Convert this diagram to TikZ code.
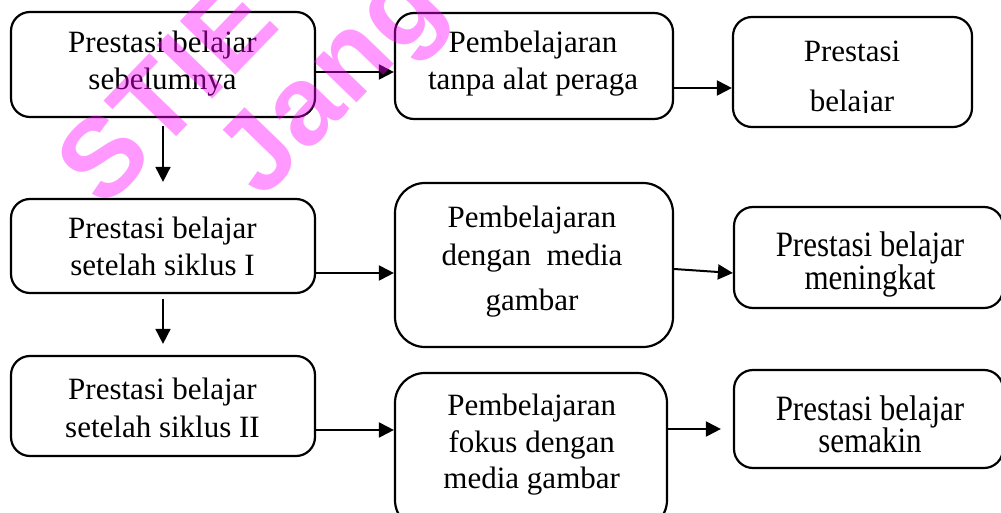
\documentclass[tikz,border=0pt]{standalone}
\usepackage{fontspec}
\setmainfont{Liberation Serif}
\newfontfamily\wmfont{Liberation Sans}[LetterSpace=2]
\usetikzlibrary{arrows.meta}
\definecolor{wmpink}{RGB}{255,0,255}
\begin{document}
\begin{tikzpicture}[x=1pt,y=1pt,
  box/.style={draw, line width=2.2pt, rounded corners=19pt, inner sep=0pt},
  bigbox/.style={box, rounded corners=30pt},
  txt/.style={anchor=base, inner sep=0pt, font=\fontsize{31}{37}\selectfont},
  arr/.style={line width=2pt, -{Triangle[length=15pt,width=15pt]}},
  wm/.style={text=wmpink, opacity=0.4, font=\wmfont\bfseries\fontsize{112}{112}\selectfont, rotate=46, anchor=center, inner sep=0pt}
]
\useasboundingbox (0,0) rectangle (1001,-513);
\clip (0,0) rectangle (1001,-513);
% boxes
\node[box, minimum width=304pt, minimum height=105pt] (A) at (163,-64.5) {};
\node[box, minimum width=278pt, minimum height=106pt] (B) at (534,-66) {};
\node[box, minimum width=239pt, minimum height=110pt] (C) at (852.5,-72) {};
\node[box, minimum width=304pt, minimum height=94pt] (D) at (163,-246) {};
\node[bigbox, minimum width=278pt, minimum height=164pt] (E) at (534,-265) {};
\node[box, minimum width=269pt, minimum height=101pt] (F) at (868.5,-257.5) {};
\node[box, minimum width=304pt, minimum height=100pt] (G) at (163,-406) {};
\node[bigbox, minimum width=272pt, minimum height=157pt] (H) at (531,-451.5) {};
\node[box, minimum width=269pt, minimum height=98pt] (I) at (868.5,-419) {};
% texts
\node[txt] (A1) at (162.5,-53) {Prestasi belajar};
\node[txt] (A2) at (162.5,-90) {sebelumnya};
\node[txt] (B1) at (533,-53) {Pembelajaran};
\node[txt] (B2) at (533,-90) {tanpa alat peraga};
\node[txt] (C1) at (852,-62) {Prestasi};
\begin{scope}
  \clip (C.north west) rectangle ([yshift=16pt]C.south east);
  \node[txt] (C2) at (852,-112) {belajar};
\end{scope}
\node[txt] (D1) at (162.5,-239) {Prestasi belajar};
\node[txt] (D2) at (162.5,-275) {setelah siklus I};
\node[txt] (E1) at (532,-228) {Pembelajaran};
\node[txt] (E2) at (532,-265) {dengan \ media};
\node[txt] (E3) at (532,-310) {gambar};
\node[txt] (F1) at (870,-256) {\scalebox{1}[1.15]{Prestasi belajar}};
\node[txt] (F2) at (870,-289) {\scalebox{1}[1.15]{meningkat}};
\node[txt] (G1) at (162.5,-399) {Prestasi belajar};
\node[txt] (G2) at (162.5,-437) {setelah siklus II};
\node[txt] (H1) at (531.7,-415) {Pembelajaran};
\node[txt] (H2) at (531.7,-452) {fokus dengan};
\node[txt] (H3) at (531.7,-488) {media gambar};
\node[txt] (I1) at (870,-420) {\scalebox{1}[1.15]{Prestasi belajar}};
\node[txt] (I2) at (870,-452) {\scalebox{1}[1.15]{semakin}};
% connectors
\coordinate (hi) at ([xshift=-12pt]I.west);
\draw[arr] ([yshift=-7.5pt]A.east) -- ([yshift=-7.5pt]A.east -| B.west);
\draw[arr] ([yshift=-22pt]B.east) -- ([yshift=-22pt]B.east -| C.west);
\draw[arr, line width=1.8pt] ([yshift=-8pt]A.south) -- ([yshift=16pt]D.north);
\draw[arr] ([yshift=-27pt]D.east) -- ([yshift=-27pt]D.east -| E.west);
\draw[arr] ([yshift=-4pt]E.east) -- ([yshift=-15.5pt]F.west);
\draw[arr, line width=1.8pt] ([yshift=-5pt]D.south) -- ([yshift=11pt]G.north);
\draw[arr] ([yshift=-24pt]G.east) -- ([yshift=-24pt]G.east -| H.west);
\draw[arr] ([yshift=22.5pt]H.east) -- ([yshift=22.5pt]H.east -| hi);
% watermark
\node[wm] (W1) at (166,-92) {STIE};
\node[wm] (W2) at (336,-86) {Jang};
\end{tikzpicture}
\end{document}
